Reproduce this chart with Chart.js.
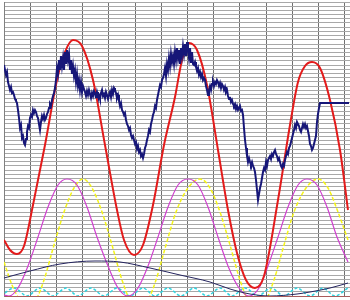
<!DOCTYPE html>
<html>
<head>
<meta charset="utf-8">
<script src="https://cdn.jsdelivr.net/npm/chart.js@4.4.1/dist/chart.umd.min.js"></script>
<style>
  html, body { margin: 0; padding: 0; background: #fff; }
  #wrap { width: 350px; height: 300px; }
</style>
</head>
<body>
<div id="wrap"><canvas id="cycles"></canvas></div>
<script>
// x = trading day, y = price units (the original has no axis labels)
const gridDays = [0, 26.2, 52.4, 78.6, 104.8, 131, 157.2, 183.4, 209.6, 235.8, 262, 288.2, 314.4, 340.6];

// daily price, day 0 .. 345
const price = [
  231,226,221,224,214,210,206,209,203,204,
  201,197,195,193,186,178,168,171,158,160,
  153,151,157,164,170,168,178,181,179,186,
  183,186,184,180,178,172,166,174,180,177,
  181,176,178,182,184,188,192,190,196,200,
  203,208,216,228,222,236,226,240,230,238,
  226,244,232,246,236,242,226,236,222,230,
  220,226,214,222,210,216,206,214,204,210,
  207,204,200,205,201,206,202,198,203,200,
  205,203,198,204,200,201,197,203,206,200,
  202,198,204,201,197,201,204,199,206,202,
  208,206,203,198,201,195,190,193,186,184,
  181,183,176,172,170,166,168,161,158,160,
  156,152,154,147,150,144,146,140,142,138,
  142,148,151,156,160,166,164,172,176,181,
  184,190,188,196,201,206,211,209,216,218,
  222,228,220,232,226,238,230,242,234,240,
  232,244,236,248,238,246,232,248,240,250,
  242,252,240,254,246,238,248,234,244,232,
  231,234,229,225,228,221,224,219,222,216,
  218,216,210,206,201,206,210,206,212,214,
  210,214,212,216,214,210,213,208,212,210,
  206,209,204,206,200,197,199,194,196,192,
  190,192,187,190,186,188,190,185,186,181,
  168,156,148,140,134,138,134,131,134,130,
  128,124,116,106,96,102,108,112,118,124,
  128,126,134,130,136,138,140,137,142,140,
  144,146,142,140,136,138,134,130,128,132,
  130,136,140,144,142,148,150,154,158,162,
  166,171,168,174,172,170,166,164,168,172,
  169,172,168,170,165,160,152,150,146,148,
  152,156,160,174,182,188,193,193,193,193,
  193,193,193,193,193,193,193,193,193,193,
  193,193,193,193,193,193,193,193,193,193,
  193,193,193,193,193,193
];

const compositeDays = [0,6,13,20,29,41,53,61,69,78,89,101,113,120,130,139,149,160,171,178,185,193,203,214,224,233,242,251,260,274,286,294,301,308,316,326,336,344];
const composite     = [56,46,42,50,91,151,216,244,256,250,216,151,86,56,41,51,91,151,199,236,253,246,211,146,86,43,16,8,20,96,171,214,230,234,228,196,146,86];

const cycleADays = [0,5,14,24,34,44,54,63,73,83,93,104,114,124,134,144,154,164,174,184,194,204,214,224,235,245,255,264,274,284,294,303,313,323,333,344];
const cycleA     = [1,0,8,30,59,89,111,117,111,89,59,30,8,0,8,30,59,89,111,117,111,89,59,30,8,0,8,30,59,89,111,117,111,89,59,34];

const cycleBDays = [0,8,16,24,32,40,50,60,70,79,88,98,108,118,126,135,144,152,162,172,184,196,206,216,226,236,244,253,262,270,280,290,302,314,324,334,344];
const cycleB     = [34,11,-4,-12,-4,16,51,84,108,117,108,84,51,16,-4,-12,-4,16,51,84,108,117,108,84,51,16,-4,-12,-4,16,51,84,108,117,108,84,56];

const longDays = [0,26,56,91,116,146,176,206,226,246,266,293,306,326,344];
const longCycle = [18,25,32,35,34,28,21,14,7,2,0,2,4,8,13];

const shortDays = [-3,10,23,36,49,62,74,87,100,113,126,139,151,164,177,190,203,216,228,241,254,267,280,293,306,319,331,344];
const shortCycle = [0,8,0,8,0,8,0,8,0,8,0,8,0,8,0,8,0,8,0,8,0,8,0,8,0,8,0,8];

const pairs = (xs, ys) => xs.map((x, i) => ({ x: x, y: ys[i] }));

new Chart(document.getElementById('cycles'), {
  type: 'line',
  data: {
    datasets: [
      { label: 'price', data: price.map((v, i) => ({ x: i, y: v })),
        borderColor: '#161678', borderWidth: 2, tension: 0 },
      { label: 'composite', data: pairs(compositeDays, composite),
        borderColor: '#e31b1b', borderWidth: 2, cubicInterpolationMode: 'monotone' },
      { label: 'long', data: pairs(longDays, longCycle),
        borderColor: '#24245e', borderWidth: 1, cubicInterpolationMode: 'monotone' },
      { label: 'cycle A', data: pairs(cycleADays, cycleA),
        borderColor: '#d040d0', borderWidth: 1.2, cubicInterpolationMode: 'monotone' },
      { label: 'cycle B', data: pairs(cycleBDays, cycleB),
        borderColor: '#f4f418', borderWidth: 1.5, borderDash: [4, 2], cubicInterpolationMode: 'monotone' },
      { label: 'short', data: pairs(shortDays, shortCycle),
        borderColor: '#30d4e0', borderWidth: 1.5, borderDash: [3, 2], tension: 0.3 }
    ]
  },
  options: {
    responsive: true,
    maintainAspectRatio: false,
    animation: false,
    layout: { padding: { left: 4, top: 2, right: 0, bottom: 4 } },
    plugins: { legend: { display: false }, tooltip: { enabled: false } },
    elements: { point: { radius: 0 } },
    scales: {
      x: {
        type: 'linear', min: 0, max: 346,
        afterBuildTicks: axis => { axis.ticks = gridDays.map(v => ({ value: v })); },
        ticks: { display: false },
        grid: { color: '#707070', drawTicks: false },
        border: { color: '#a85c5c' }
      },
      y: {
        min: 0, max: 294,
        ticks: { display: false, stepSize: 4.2 },
        grid: { color: '#a8a8a8', drawTicks: false },
        border: { color: '#808080' }
      }
    }
  }
});
</script>
</body>
</html>
